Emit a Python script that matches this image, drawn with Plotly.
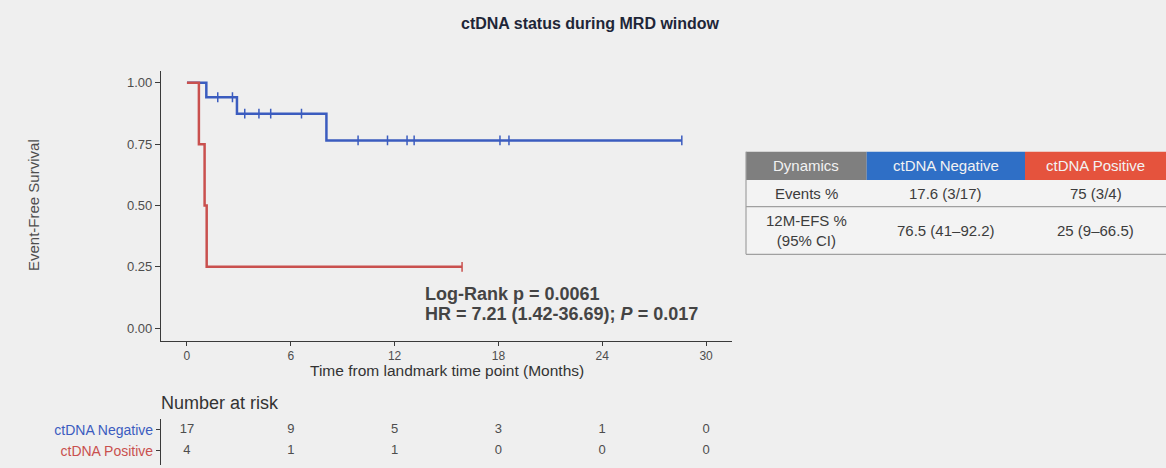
import numpy as np
import plotly.graph_objects as go

W, H = 1166, 468

# ---------------- data ----------------
neg_times = [0, 1.12, 2.89, 8.06, 28.6]
neg_surv = [1.0, 0.941, 0.874, 0.765, 0.765]
neg_censor = [1.78, 2.63, 3.34, 4.16, 4.84, 6.62, 9.89, 11.59, 12.72, 13.13, 18.09, 18.61, 28.6]

pos_times = [0, 0.69, 1.02, 1.14, 15.9]
pos_surv = [1.0, 0.75, 0.5, 0.25, 0.25]
pos_censor = [15.9]

risk_times = [0, 6, 12, 18, 24, 30]
risk_neg = [17, 9, 5, 3, 1, 0]
risk_pos = [4, 1, 1, 0, 0, 0]
risk_groups = ["ctDNA Positive", "ctDNA Negative"]

x_ticks = [0, 6, 12, 18, 24, 30]
y_ticks = [0.0, 0.25, 0.5, 0.75, 1.0]
y_ticklabels = ["0.00", "0.25", "0.50", "0.75", "1.00"]

table_header = ["Dynamics", "ctDNA Negative", "ctDNA Positive"]
table_rows = [
    ["Events %", "17.6 (3/17)", "75 (3/4)"],
    ["12M-EFS %<br>(95% CI)", "76.5 (41\u201392.2)", "25 (9\u201366.5)"],
]

title_text = "ctDNA status during MRD window"
logrank_text = "Log-Rank p = 0.0061"
hr_text = "HR = 7.21 (1.42-36.69); <i>P</i> = 0.017"

# ---------------- styles ----------------
BG = "#efefef"
BLUE = "#3b5cbf"
RED = "#c9504e"
AX = "#3a3a3a"
TXT = "#4d4d4d"
FONT = "Liberation Sans, Arial, sans-serif"


def px(x):
    return x / W


def py(y):
    return 1 - y / H


def step_value(times, surv, t):
    i = np.searchsorted(np.array(times), t, side="right") - 1
    return surv[max(i, 0)]


fig = go.Figure()

# KM curves
for times, surv, cens, col, name in [
    (neg_times, neg_surv, neg_censor, BLUE, "ctDNA Negative"),
    (pos_times, pos_surv, pos_censor, RED, "ctDNA Positive"),
]:
    fig.add_trace(go.Scatter(x=times, y=surv, mode="lines", line=dict(color=col, width=2.5, shape="hv"),
                             name=name, showlegend=False, xaxis="x", yaxis="y"))
    cy = [step_value(times, surv, t) for t in cens]
    fig.add_trace(go.Scatter(x=cens, y=cy, mode="markers",
                             marker=dict(symbol="line-ns", size=7, line=dict(color=col, width=1.5)),
                             showlegend=False, xaxis="x", yaxis="y"))

# risk table numbers
fig.add_trace(go.Scatter(x=risk_times, y=[1] * len(risk_times), mode="text",
                         text=[str(v) for v in risk_neg], textfont=dict(size=13, color=TXT, family=FONT),
                         showlegend=False, xaxis="x2", yaxis="y2"))
fig.add_trace(go.Scatter(x=risk_times, y=[0] * len(risk_times), mode="text",
                         text=[str(v) for v in risk_pos], textfont=dict(size=13, color=TXT, family=FONT),
                         showlegend=False, xaxis="x2", yaxis="y2"))

x_dom = [px(161), px(732)]
xr = [-1.5, 31.5]

fig.update_layout(
    width=W, height=H,
    margin=dict(l=0, r=0, t=0, b=0),
    paper_bgcolor=BG, plot_bgcolor=BG,
    font=dict(family=FONT, color=TXT),
    showlegend=False,
    xaxis=dict(domain=x_dom, range=xr, tickvals=x_ticks, ticks="outside", ticklen=4, tickcolor=AX,
               showline=True, linecolor=AX, linewidth=1.2, showgrid=False, zeroline=False,
               tickfont=dict(size=12, color=TXT), anchor="y"),
    yaxis=dict(domain=[py(340.5), py(70.5)], range=[-0.05, 1.05], tickvals=y_ticks, ticktext=y_ticklabels,
               ticks="outside", ticklen=5, tickcolor=AX, showline=True, linecolor=AX, linewidth=1.2,
               showgrid=False, zeroline=False, tickfont=dict(size=13, color=TXT), anchor="x"),
    xaxis2=dict(domain=x_dom, range=xr, visible=False, anchor="y2"),
    yaxis2=dict(domain=[py(465), py(419)], range=[-0.67, 1.52], tickvals=[0, 1],
                ticktext=[f"<span style='color:{RED}'>{risk_groups[0]}</span>",
                          f"<span style='color:{BLUE}'>{risk_groups[1]}</span>"],
                ticks="outside", ticklen=4, tickcolor=AX, showline=True, linecolor=AX, linewidth=1.2,
                showgrid=False, zeroline=False, tickfont=dict(size=14), anchor="x2"),
)

ann = []
ann.append(dict(text=f"<b>{title_text}</b>", x=px(590), y=py(23), xref="paper", yref="paper",
                showarrow=False, font=dict(size=16, color="#1e2638"), xanchor="center", yanchor="middle"))
ann.append(dict(text="Event-Free Survival", x=px(33), y=py(205), xref="paper", yref="paper", textangle=-90,
                showarrow=False, font=dict(size=15, color=TXT), xanchor="center", yanchor="middle"))
ann.append(dict(text="Time from landmark time point (Months)", x=px(447), y=py(370), xref="paper", yref="paper",
                showarrow=False, font=dict(size=15.5, color="#333333"), xanchor="center", yanchor="middle"))
ann.append(dict(text="Number at risk", x=px(159), y=py(403), xref="paper", yref="paper",
                showarrow=False, font=dict(size=18, color="#333333"), xanchor="left", yanchor="middle"))
ann.append(dict(text=f"<b>{logrank_text}</b>", x=13.63, y=0.139, xref="x", yref="y",
                showarrow=False, font=dict(size=18, color="#444444"), xanchor="left", yanchor="middle"))
ann.append(dict(text=f"<b>{hr_text}</b>", x=13.63, y=0.057, xref="x", yref="y",
                showarrow=False, font=dict(size=18, color="#444444"), xanchor="left", yanchor="middle"))

# ---------------- summary table (shapes + text) ----------------
col_edges = [746, 866.7, 1025, 1166]
row_edges = [151.7, 180, 206.7, 254.3]
header_fill = ["#7f7f7f", "#2f6fc6", "#e5533d"]
shapes = []
for j in range(3):
    shapes.append(dict(type="rect", xref="paper", yref="paper",
                       x0=px(col_edges[j]), x1=px(col_edges[j + 1]), y0=py(row_edges[1]), y1=py(row_edges[0]),
                       fillcolor=header_fill[j], line=dict(width=0), layer="above"))
    ann.append(dict(text=table_header[j], x=px((col_edges[j] + col_edges[j + 1]) / 2),
                    y=py((row_edges[0] + row_edges[1]) / 2), xref="paper", yref="paper", showarrow=False,
                    font=dict(size=15, color="#f2f2f2"), xanchor="center", yanchor="middle"))
shapes.append(dict(type="rect", xref="paper", yref="paper", x0=px(col_edges[0]), x1=px(col_edges[-1]),
                   y0=py(row_edges[-1]), y1=py(row_edges[1]), fillcolor="#f3f3f3", line=dict(width=0),
                   layer="below"))
for yy in row_edges[2:]:
    shapes.append(dict(type="line", xref="paper", yref="paper", x0=px(col_edges[0]), x1=px(col_edges[-1]),
                       y0=py(yy), y1=py(yy), line=dict(color="#a0a0a0", width=1.2)))
shapes.append(dict(type="line", xref="paper", yref="paper", x0=px(col_edges[0]), x1=px(col_edges[0]),
                   y0=py(row_edges[-1]), y1=py(row_edges[0]), line=dict(color="#a0a0a0", width=1.2)))
for i, row in enumerate(table_rows):
    for j, cell in enumerate(row):
        ann.append(dict(text=cell, x=px((col_edges[j] + col_edges[j + 1]) / 2),
                        y=py((row_edges[i + 1] + row_edges[i + 2]) / 2), xref="paper", yref="paper",
                        showarrow=False, font=dict(size=15, color="#3c3c3c"), xanchor="center",
                        yanchor="middle"))

fig.update_layout(annotations=ann, shapes=shapes)
fig.write_html("out.html")
